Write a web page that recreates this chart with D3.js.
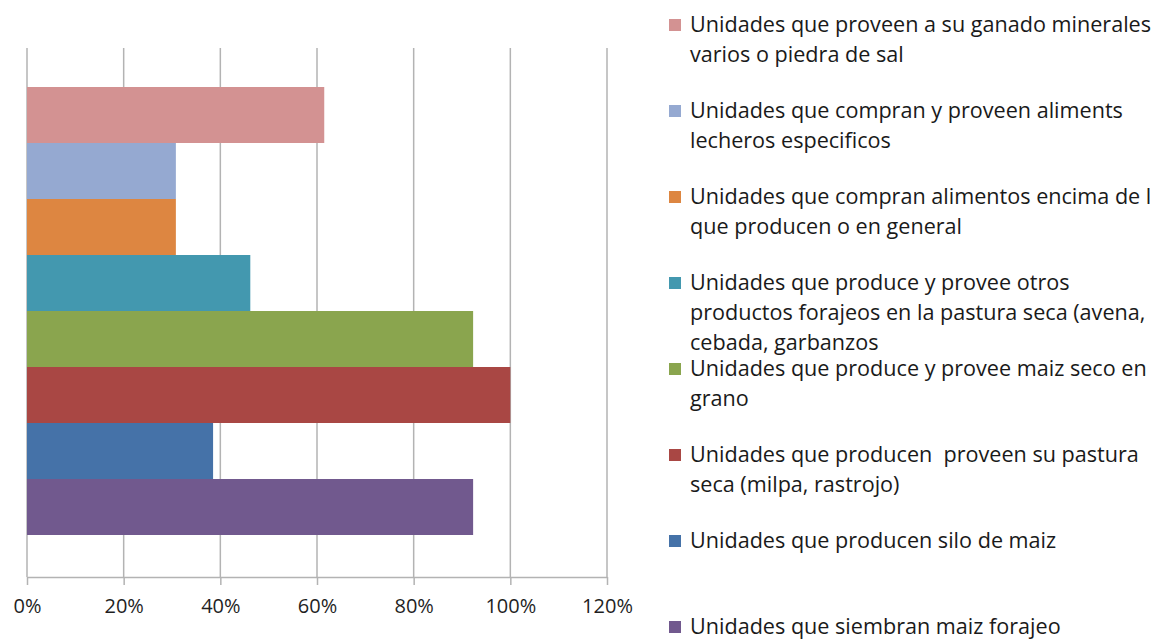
<!DOCTYPE html>
<html>
<head>
<meta charset="utf-8">
<script src="https://cdn.jsdelivr.net/npm/d3@7"></script>
<style>
  body { margin: 0; background: #fff; }
  svg { display: block; }
</style>
</head>
<body>
<div id="chart"></div>
<script>
// series names, top to bottom (legend order)
const series = [
  "Unidades que proveen a su ganado minerales\nvarios o piedra de sal",
  "Unidades que compran y proveen aliments\nlecheros especificos",
  "Unidades que compran alimentos encima de l\nque producen o en general",
  "Unidades que produce y provee otros\nproductos forajeos en la pastura seca (avena,\ncebada, garbanzos",
  "Unidades que produce y provee maiz seco en\ngrano",
  "Unidades que producen  proveen su pastura\nseca (milpa, rastrojo)",
  "Unidades que producen silo de maiz",
  "Unidades que siembran maiz forajeo"
];
const values = [0.615, 0.308, 0.308, 0.462, 0.923, 1.0, 0.385, 0.923];
const colors = ["#D39292", "#95A9D1", "#DD8641", "#4398AF", "#8AA54E", "#A94744", "#4572A8", "#71598E"];
const ticks = [0, 0.2, 0.4, 0.6, 0.8, 1.0, 1.2];

const width = 1156, height = 639;
const plot = { left: 27, right: 607, top: 48, bottom: 577 };
const font = "'Open Sans', sans-serif";

const svg = d3.select("#chart")
  .append("svg")
  .attr("width", width)
  .attr("height", height);

const x = d3.scaleLinear().domain([0, 1.2]).range([plot.left, plot.right]);
const y = d3.scaleBand().domain(series).range([plot.top - 3, plot.bottom])
  .paddingInner(0).paddingOuter(0.75);

// gridlines
svg.append("g")
  .selectAll("line")
  .data(ticks)
  .join("line")
  .attr("x1", d => x(d)).attr("x2", d => x(d))
  .attr("y1", plot.top).attr("y2", plot.bottom)
  .attr("stroke", "#b3b3b3")
  .attr("stroke-width", 1.5);

// bars
svg.append("g")
  .selectAll("rect")
  .data(series)
  .join("rect")
  .attr("x", x(0))
  .attr("y", d => y(d))
  .attr("width", (d, i) => x(values[i]) - x(0))
  .attr("height", y.bandwidth())
  .attr("fill", (d, i) => colors[i]);

// x axis
const xAxis = d3.axisBottom(x)
  .tickValues(ticks)
  .tickFormat(d3.format(".0%"))
  .tickSizeInner(8)
  .tickSizeOuter(0)
  .tickPadding(14);

const ax = svg.append("g")
  .attr("transform", `translate(0,${plot.bottom})`)
  .call(xAxis);
ax.select(".domain").attr("stroke", "#b3b3b3").attr("stroke-width", 1.5);
ax.selectAll(".tick line").attr("stroke", "#b3b3b3").attr("stroke-width", 1.5);
ax.selectAll(".tick text")
  .attr("font-family", font)
  .attr("font-size", 20)
  .attr("fill", "#1f1f1f");

// legend
const legend = svg.append("g")
  .selectAll("g")
  .data(series)
  .join("g")
  .attr("transform", (d, i) => `translate(669,${25 + i * 86})`);

legend.append("rect")
  .attr("x", 0).attr("y", -6)
  .attr("width", 12).attr("height", 12)
  .attr("fill", (d, i) => colors[i]);

legend.append("text")
  .attr("font-family", font)
  .attr("font-size", 21.6)
  .attr("fill", "#1a1a1a")
  .style("white-space", "pre")
  .selectAll("tspan")
  .data(d => d.split("\n"))
  .join("tspan")
  .attr("x", 21)
  .attr("y", (d, j) => 7 + j * 30)
  .text(d => d);
</script>
</body>
</html>
